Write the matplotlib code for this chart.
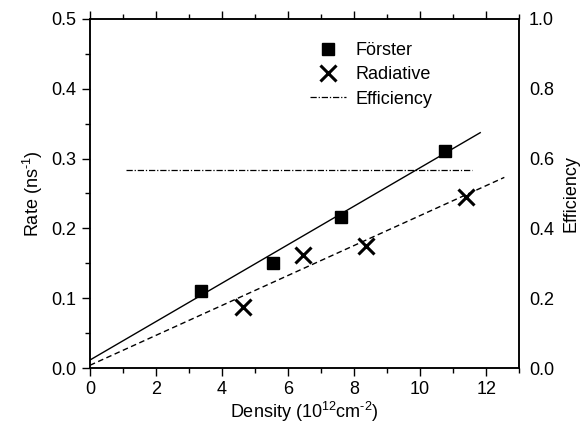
import matplotlib
matplotlib.use("Agg")
import matplotlib.pyplot as plt
from matplotlib.ticker import MultipleLocator

plt.rcParams['font.family'] = ['Liberation Sans', 'DejaVu Sans']
plt.rcParams['mathtext.fontset'] = 'custom'
plt.rcParams['mathtext.rm'] = 'Liberation Sans'
plt.rcParams['mathtext.it'] = 'Liberation Sans:italic'

# data
forster_x = [3.35, 5.55, 7.6, 10.76]
forster_y = [0.111, 0.150, 0.217, 0.311]
radiative_x = [4.65, 6.44, 8.36, 11.38]
radiative_y = [0.088, 0.162, 0.175, 0.245]
# linear fits (end points)
fit_forster_x = [0.0, 11.82]
fit_forster_y = [0.0115, 0.337]
fit_radiative_x = [0.0, 12.55]
fit_radiative_y = [0.004, 0.273]
# efficiency (right axis)
eff_x = [1.08, 11.57]
eff_y = [0.567, 0.567]

fig = plt.figure(figsize=(5.84, 4.28), dpi=100)
ax = fig.add_axes([0.154, 0.140, 0.735, 0.816])

ax.plot(fit_forster_x, fit_forster_y, color='black', lw=1.0)
ax.plot(fit_radiative_x, fit_radiative_y, color='black', lw=1.0, ls=(0, (4, 2.5)))
sq, = ax.plot(forster_x, forster_y, 's', color='black', ms=9, ls='none')
cr, = ax.plot(radiative_x, radiative_y, 'x', color='black', ms=12, mew=2.2, ls='none')

ax2 = ax.twinx()
ef, = ax2.plot(eff_x, eff_y, color='black', lw=0.9, ls=(0, (5, 1.5, 1, 1.5)))

ax.set_xlim(0, 13)
ax.set_ylim(0, 0.5)
ax2.set_ylim(0, 1.0)

ax.xaxis.set_major_locator(MultipleLocator(2))
ax.xaxis.set_minor_locator(MultipleLocator(1))
ax.yaxis.set_major_locator(MultipleLocator(0.1))
ax.yaxis.set_minor_locator(MultipleLocator(0.05))
ax.yaxis.set_major_formatter(plt.FormatStrFormatter('%.1f'))
ax2.yaxis.set_major_locator(MultipleLocator(0.2))
ax2.yaxis.set_major_formatter(plt.FormatStrFormatter('%.1f'))

ax.tick_params(which='both', direction='out', top=True, labelsize=13, width=1)
ax.tick_params(which='major', length=6)
ax.tick_params(which='minor', length=3.5)
ax2.tick_params(axis='y', length=0, labelsize=13, pad=7)

for a in (ax, ax2):
    for s in a.spines.values():
        s.set_linewidth(1.1)

ax.set_xlabel(r'Density (10$^{12}$cm$^{\text{-}2}$)', fontsize=13, labelpad=1)
ax.set_ylabel(r'Rate (ns$^{\text{-}1}$)', fontsize=13, labelpad=5)
ax2.set_ylabel('Efficiency', fontsize=13, labelpad=6)

ax.legend([sq, cr, ef], ['Förster', 'Radiative', 'Efficiency'], loc='upper left',
          bbox_to_anchor=(0.475, 0.98), frameon=False, fontsize=13,
          handlelength=2.0, handletextpad=0.5, labelspacing=0.4)

fig.savefig('out.png', dpi=100)
